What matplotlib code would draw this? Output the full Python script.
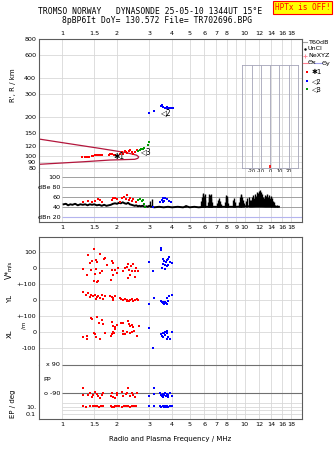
import matplotlib
matplotlib.use("Agg")
import matplotlib.pyplot as plt
from matplotlib.lines import Line2D
from matplotlib.ticker import NullLocator
import numpy as np

# ---------------- values ----------------
grid_freqs = [1, 1.5, 2, 3, 4, 5, 6, 7, 8, 9, 10, 12, 14, 16, 18]
freq_labels = ["1", "1.5", "2", "3", "4", "5", "6", "7", "8", "", "10", "12", "14", "16", "18"]
freq_labels_mid = ["1", "1.5", "2", "3", "4", "5", "6", "7", "8", "9", "10", "12", "14", "16", "18"]
range_ticks = [80, 90, 100, 120, 150, 200, 300, 400, 600, 800]

# virtual range R' (km) of the three echo groups
red_rf = [1.29, 1.33, 1.37, 1.41, 1.45, 1.48, 1.52, 1.56, 1.60, 1.64, 1.66, 1.80, 1.84, 1.88, 1.92,
          1.96, 2.00, 2.08, 2.12, 2.16, 2.20, 2.25, 2.28, 2.32, 2.36, 2.41, 2.46, 2.51, 2.56]
red_r = [97.5, 97.5, 98, 98.5, 99.5, 100, 101, 101.5, 101.5, 101, 100.5, 101.5, 102.5, 103, 102,
         100.5, 99, 104, 106, 104, 108.5, 107, 105, 108.5, 110.5, 106.5, 104, 107, 110.5]
grn_rf = [2.62, 2.67, 2.72, 2.77, 2.82, 2.95, 2.98]
grn_r = [109, 111, 112, 113, 114.5, 122, 127]
blu_rf = [2.98, 3.18, 3.47, 3.52, 3.55, 3.59, 3.65, 3.70, 3.74, 3.80, 3.87, 3.95, 4.05]
blu_r = [214, 222, 245, 248, 240, 238, 236, 233, 237, 232, 235, 236, 236]

# closed model curve in the range panel
curve_f = [0.748, 1.06, 1.61, 2.26, 2.56, 2.63, 2.60, 2.50, 1.83, 1.31, 0.748]
curve_r = [134.7, 124.8, 114, 105.5, 101, 98, 95.5, 93.8, 92.6, 89.8, 85.8]

# group labels in the range panel
group_names = ["\u27311", "\u25c12", "\u25c13"]
group_f = [2.05, 3.73, 2.90]
group_r = [98.6, 218, 108.7]

# echo amplitude dBe
red_df = [1.31, 1.39, 1.45, 1.52, 1.58, 1.61, 1.65, 1.87, 1.91, 1.95, 2.01, 2.08, 2.12, 2.18,
          2.24, 2.28, 2.32, 2.36, 2.41, 2.46, 2.54]
red_db = [51.3, 52.6, 50, 52.6, 56.6, 54.6, 50, 54.6, 57.9, 59.2, 56.6, 51.3, 57.9, 61.3,
          56.6, 64.6, 54.6, 59.2, 52.6, 56.6, 51.3]
grn_df = [2.62, 2.67, 2.73, 2.77, 2.81, 2.85]
grn_db = [54.6, 56.6, 52.6, 54.6, 46, 41.3]
blu_df = [3.16, 3.44, 3.51, 3.55, 3.59, 3.63, 3.66, 3.74, 3.83, 3.95]
blu_db = [40, 51.3, 54.6, 50, 58, 52.6, 59.2, 56.6, 52, 51]

# T60dB noise trace: base line and spikes
t60_f = [1.02, 1.05, 1.08, 1.11, 1.14, 1.18, 1.22, 1.26, 1.30, 1.34, 1.38, 1.42, 1.46, 1.50, 1.55,
         1.60, 1.65, 1.70, 1.75, 1.80, 1.85, 1.90, 1.95, 2.00, 2.05, 2.10, 2.15, 2.20, 2.25, 2.30,
         2.35, 2.40, 2.45, 2.50, 2.55, 2.60, 2.65, 2.70, 2.75, 2.80, 2.85, 2.90, 2.95, 3.00, 3.10,
         3.20, 3.40, 3.60, 3.80, 4.00, 4.30, 4.60, 4.80, 5.00, 5.30, 5.60, 6.00, 7.00, 8.00, 9.00,
         10.0, 11.0, 12.0, 13.0, 14.0, 15.0, 15.4]
t60_db = [46, 47, 44, 46, 45, 47, 44, 46, 45, 46, 44, 46, 45, 46, 44,
          45, 43, 45, 43, 44, 45, 47, 48, 47, 49, 48, 50, 48, 47, 49,
          46, 45, 44, 43, 44, 42, 43, 42, 43, 42, 41, 42, 41, 43, 41,
          40, 41, 40, 41, 40, 41, 40, 42, 40, 41, 40, 41, 41, 41, 41,
          42, 42, 43, 42, 42, 41, 41]
spike_f = [3.05, 3.10, 4.70, 4.80,
           5.80, 5.85, 5.90, 5.95, 6.00, 6.05, 6.10,
           6.30, 6.35, 6.40, 6.45, 6.50, 6.55, 6.60,
           7.05, 7.15, 7.25, 7.35, 7.45,
           7.80, 7.90, 7.95, 8.00, 8.05, 8.15,
           8.65, 8.75, 8.85,
           9.30, 9.40, 9.50, 9.60, 9.70, 9.80, 9.90,
           10.2, 10.35, 10.5, 10.65,
           10.8, 10.95, 11.1, 11.25, 11.4, 11.55, 11.7, 11.85, 12.0, 12.15, 12.3, 12.45, 12.6,
           12.8, 12.95, 13.1, 13.25, 13.4, 13.55, 13.7, 13.85, 14.0, 14.15, 14.3, 14.5, 14.7, 15.0]
spike_db = [52, 56, 44, 45,
            52, 60, 66, 68, 62, 66, 55,
            50, 60, 67, 64, 66, 58, 50,
            48, 55, 58, 52, 47,
            50, 60, 64, 63, 58, 48,
            55, 58, 50,
            50, 60, 66, 64, 60, 55, 48,
            52, 58, 60, 54,
            55, 60, 64, 58, 66, 62, 70, 68, 72, 74, 70, 66, 60,
            58, 64, 62, 67, 60, 65, 58, 62, 55, 58, 52, 50, 45, 44]

# V* (m/s), YL and XL (m)
red_vf = [1.50, 1.38, 1.61, 1.70, 1.45, 1.53, 1.31, 1.44, 1.37, 1.52, 1.66, 1.50, 1.58, 1.87, 1.91,
          1.87, 1.95, 1.91, 1.85, 2.03, 2.15, 2.21, 2.31, 2.26, 2.34, 2.39, 2.46, 2.41, 2.51, 2.54,
          2.36, 2.31, 2.51, 2.62, 1.42, 1.55, 1.53, 1.61, 1.72, 1.76, 1.99, 1.55]
red_v = [119, 79, 90, 58, 42, 48, -4, -15, -46, -38, -21, -79, -79, 42, 31,
         -15, -15, -46, -73, 0, -21, 0, 27, 6, -10, 10, 27, -21, -21, 0,
         -46, -62, -56, -21, 29, 40, -8, -33, 60, 19, -29, -85]
blu_vf = [2.99, 3.16, 3.47, 3.47, 3.56, 3.63, 3.71, 3.74, 3.59, 3.66, 3.82, 3.90, 3.51, 3.66,
          3.74, 3.82, 3.87, 3.98]
blu_v = [35, -21, 125, 115, 58, 42, 37, 52, 25, 21, 58, 37, 0, -4, 10, 21, 71, 33]

red_yf = [1.31, 1.38, 1.35, 1.44, 1.47, 1.52, 1.55, 1.58, 1.61, 1.66, 1.68, 1.72, 1.54, 1.42,
          1.82, 1.87, 1.91, 1.95, 1.91, 2.07, 2.11, 2.17, 2.21, 2.26, 2.31, 2.36, 2.41, 2.46,
          2.51, 2.57, 2.62, 2.34, 2.28]
red_yl = [50, 44, 29, 33, 23, 29, 17, 23, 12, 29, 8, 23, 8, 17,
          23, 17, 12, 23, 2, 12, 8, 2, 8, 2, -4, 2, 8, -4,
          2, 8, 2, -8, -8]
blu_yf = [2.98, 3.18, 3.47, 3.51, 3.55, 3.59, 3.63, 3.66, 3.70, 3.74, 3.74, 3.80, 3.87, 3.98]
blu_yl = [-25, 15, -6, -15, -10, -20, -25, -12, -18, 10, -25, -6, 25, 31]

red_xf = [1.44, 1.55, 1.45, 1.60, 1.66, 1.68, 1.87, 1.90, 1.95, 1.94, 1.91, 1.87, 1.93, 1.31,
          1.37, 1.37, 1.50, 1.52, 1.54, 1.61, 1.72, 1.85, 1.99, 2.11, 2.17, 2.15, 2.21, 2.15,
          2.31, 2.34, 2.36, 2.41, 2.46, 2.28, 2.36, 2.41, 2.48, 2.57, 2.64]
red_xl = [85, 92, 79, 58, 75, 50, 65, 37, 29, 17, 2, -12, -8, -33,
          -25, -46, -4, -12, -33, -46, -8, -25, 44, 58, 54, 8, -12, -12,
          71, 50, 37, 44, 33, 2, -4, 2, 8, -25, 37]
blu_xf = [2.99, 3.16, 3.66, 3.74, 3.59, 3.51, 3.66, 3.74, 3.56, 3.82, 3.90, 3.98, 3.77, 3.47, 3.63]
blu_xl = [27, -102, 2, 8, -8, -25, -19, -8, -29, -33, -46, 2, -46, -12, -4]

# EP (deg) and PP
red_ef = [1.30, 1.38, 1.42, 1.48, 1.52, 1.55, 1.58, 1.61, 1.65, 1.68, 1.85, 1.87, 1.91, 1.95,
          1.99, 2.12, 2.17, 2.24, 2.31, 2.36, 2.41, 2.46, 2.51, 2.56, 1.30, 1.45, 2.00, 2.28]
red_ep = [-60, -103, -88, -103, -82, -96, -109, -124, -103, -88, -109, -88, -114, -124,
          -92, -82, -109, -96, -60, -109, -92, -103, -118, -92, -103, -114, -103, -88]
blu_ef = [2.98, 3.18, 3.18, 3.44, 3.48, 3.52, 3.56, 3.59, 3.63, 3.66, 3.70, 3.74, 3.78, 3.82,
          3.90, 3.98]
blu_ep = [-109, -60, -96, -92, -103, -109, -96, -114, -103, -92, -109, -96, -118, -103, -92, -109]

red_pf = [1.30, 1.36, 1.42, 1.47, 1.52, 1.56, 1.60, 1.64, 1.68, 1.85, 1.88, 1.92, 1.96, 2.00,
          2.06, 2.12, 2.18, 2.24, 2.30, 2.36, 2.42, 2.48, 2.54]
red_pp = [14, 11, 16, 12, 18, 13, 10, 14, 12, 15, 11, 9, 13, 16, 12, 10, 14, 12, 15, 11, 13, 16, 12]
blu_pf = [2.98, 3.18, 3.45, 3.50, 3.55, 3.60, 3.65, 3.70, 3.75, 3.82, 3.92, 3.98]
blu_pp = [14, 15, 12, 9, 13, 10, 14, 9, 12, 11, 13, 12]

tilt_grid = [-20, -10, 0, 10, 20]
tilt_deg = [0.0]

# ---------------- layout ----------------
W, H = 335, 451
F_MIN, F_MAX = 0.748, 20.6
FRAME = "#5c5c5c"
GRID = "#d8d8d8"
RED, BLUE, GREEN = "#ff0000", "#0000ff", "#009a00"
TICK_FS = 4.6


def px_rect(top, bottom, left=39, right=302):
    """axes rectangle from pixel edges (origin top-left)"""
    return [left / W, 1 - bottom / H, (right - left) / W, (bottom - top) / H]


def fig_xy(x, y):
    return x / W, 1 - y / H


def freq_axis(ax, labels=None, top=False):
    ax.set_xscale("log")
    ax.set_xlim(F_MIN, F_MAX)
    ax.set_xticks(grid_freqs, labels if labels else [""] * len(grid_freqs))
    ax.xaxis.set_minor_locator(NullLocator())
    ax.grid(axis="x", color=GRID, lw=0.6)
    ax.set_axisbelow(True)
    ax.tick_params(axis="x", length=0, labelsize=TICK_FS, pad=2.5,
                   labeltop=top, labelbottom=not top)
    ax.tick_params(axis="y", length=0, labelsize=TICK_FS, pad=2)
    for s in ax.spines.values():
        s.set_color(FRAME)
        s.set_linewidth(0.8)


def dots(ax, x, y, color):
    ax.plot(x, y, ls="none", marker="s", ms=1.6, mew=0, color=color)


fig = plt.figure(figsize=(W / 100, H / 100), dpi=100)

# header
mono = "DejaVu Sans Mono"
fig.text(*fig_xy(150, 12), "TROMSO NORWAY   DYNASONDE 25-05-10 1344UT 15\u00b0E",
         family=mono, fontsize=5.8, ha="center", va="center")
fig.text(*fig_xy(156.7, 20.5), "8pBP6It DoY= 130.572 File= TR702696.BPG",
         family=mono, fontsize=5.8, ha="center", va="center")
fig.text(*fig_xy(302.5, 7.5), "HPTx is OFF!", family=mono, fontsize=5.6, color=RED,
         ha="center", va="center",
         bbox=dict(boxstyle="square,pad=0.2", facecolor="#ffff00", edgecolor=RED, lw=0.8))

# ---- range panel ----
ax_r = fig.add_axes(px_rect(39, 172))
freq_axis(ax_r, freq_labels, top=True)
ax_r.set_yscale("log")
ax_r.set_ylim(74.8, 803)
ax_r.set_yticks(range_ticks, [str(v) for v in range_ticks])
ax_r.yaxis.set_minor_locator(NullLocator())
ax_r.grid(axis="y", color=GRID, lw=0.6)
ax_r.spines["bottom"].set_visible(False)
ax_r.plot(curve_f, curve_r, color="#b3163c", lw=0.9)
dots(ax_r, red_rf, red_r, RED)
dots(ax_r, grn_rf, grn_r, GREEN)
dots(ax_r, blu_rf, blu_r, BLUE)
for name, f, r in zip(group_names, group_f, group_r):
    ax_r.text(f, r, name, fontsize=5.5, ha="center", va="center")

# tilt inset
ax_t = fig.add_axes(px_rect(65, 167.7, 242, 297.7))
ax_t.patch.set_alpha(0)
ax_t.set_xlim(-30.8, 30)
ax_t.set_ylim(0, 1)
ax_t.vlines(tilt_grid, 0, 1, color="#a4a4b8", lw=0.6)
ax_t.vlines(tilt_deg, 0, 0.03, color=RED, lw=1.2)
ax_t.set_xticks(tilt_grid, [str(t) for t in tilt_grid])
ax_t.set_yticks([])
ax_t.tick_params(axis="x", length=0, labelsize=3.5, pad=1)
ax_t.set_xlabel("Tilt / deg", fontsize=3.5, labelpad=0.5)
for s in ax_t.spines.values():
    s.set_color("#a4a4b8")
    s.set_linewidth(0.6)

# ---- amplitude panel ----
ax_db = fig.add_axes(px_rect(172, 222))
freq_axis(ax_db, freq_labels_mid)
ax_db.set_ylim(10.6, 110.6)
ax_db.set_yticks([])
ax_db.spines["top"].set_visible(False)
ax_db.hlines([100, 80, 60, 40], 1, F_MAX, color="#a0a0a0", lw=0.7)
ax_db.hlines([20], 1, F_MAX, color="#b4b4ee", lw=0.8)
for val, lab in zip([100, 80, 60, 40, 20], ["100", "dBe 80", "60", "40", "dBn 20"]):
    ax_db.text(0.985, val, lab, fontsize=TICK_FS, ha="right", va="center")
ax_db.vlines(spike_f, 40, spike_db, color="black", lw=1.0)
ax_db.plot(t60_f, t60_db, color="black", lw=1.4)
dots(ax_db, red_df, red_db, RED)
dots(ax_db, grn_df, grn_db, GREEN)
dots(ax_db, blu_df, blu_db, BLUE)

# ---- V*, YL, XL panel (stacked, 200 units apart) ----
ax_v = fig.add_axes(px_rect(237, 365))
freq_axis(ax_v)
ax_v.set_ylim(-206.25, 593.75)
v_ticks = [500, 400, 300, 200, 100, 0, -100]
ax_v.set_yticks(v_ticks, ["100", "0", "+-100", "0", "+-100", "0", "-100"])
ax_v.grid(axis="y", color=GRID, lw=0.6)
ax_v.spines["bottom"].set_visible(False)
dots(ax_v, red_vf, np.array(red_v) + 400, RED)
dots(ax_v, blu_vf, np.array(blu_v) + 400, BLUE)
dots(ax_v, red_yf, np.array(red_yl) + 200, RED)
dots(ax_v, blu_yf, np.array(blu_yl) + 200, BLUE)
dots(ax_v, red_xf, red_xl, RED)
dots(ax_v, blu_xf, blu_xl, BLUE)

# ---- EP / PP panel ----
ax_ep = fig.add_axes(px_rect(365, 419))
freq_axis(ax_ep, freq_labels)
ax_ep.set_ylim(-257.1, 90)
ax_ep.set_yticks([])
ax_ep.spines["top"].set_visible(False)
ax_ep.hlines([90, -90], 1, F_MAX, color="#707070", lw=0.8, clip_on=False)
ax_ep.text(0.975, 90, "x 90", fontsize=TICK_FS, ha="right", va="center")
ax_ep.text(0.975, -90, "o -90", fontsize=TICK_FS, ha="right", va="center")
ax_ep.text(0.787, -6, "PP", fontsize=TICK_FS, ha="left", va="center")
dots(ax_ep, red_ef, red_ep, RED)
dots(ax_ep, blu_ef, blu_ep, BLUE)

ax_pp = ax_ep.twinx()
ax_pp.set_xlim(F_MIN, F_MAX)
ax_pp.set_yscale("log")
ax_pp.set_ylim(10 ** -2.37, 10 ** 12.42)
ax_pp.yaxis.tick_left()
ax_pp.set_yticks([10, 0.1], ["10.", "0.1"])
ax_pp.yaxis.set_minor_locator(NullLocator())
ax_pp.tick_params(axis="y", length=0, labelsize=TICK_FS, pad=2)
for s in ax_pp.spines.values():
    s.set_visible(False)
ax_pp.hlines([100, 10, 1, 0.1], 1, F_MAX, color=GRID, lw=0.6)
dots(ax_pp, red_pf, red_pp, RED)
dots(ax_pp, blu_pf, blu_pp, BLUE)

# ---- axis titles ----
fig.text(*fig_xy(13.5, 85), "R', R / km", rotation=90, fontsize=5, ha="center", va="center")
fig.text(*fig_xy(9, 274), "V*", rotation=90, fontsize=5.5, ha="center", va="center")
fig.text(*fig_xy(9, 265.5), "m/s", rotation=90, fontsize=4, ha="center", va="center")
fig.text(*fig_xy(10, 299), "YL", rotation=90, fontsize=5, ha="center", va="center")
fig.text(*fig_xy(24, 325), "/m", rotation=90, fontsize=4, ha="center", va="center")
fig.text(*fig_xy(10, 334), "XL", rotation=90, fontsize=5, ha="center", va="center")
fig.text(*fig_xy(13, 404), "EP / deg", rotation=90, fontsize=5, ha="center", va="center")
fig.text(*fig_xy(170, 439.5), "Radio and Plasma Frequency / MHz", fontsize=5,
         ha="center", va="center")

# ---- legend (right margin) ----
def leg_line(x0, x1, y, color):
    fig.add_artist(Line2D([x0 / W, x1 / W], [1 - y / H, 1 - y / H], color=color, lw=0.8))


leg_line(303, 307, 42.3, "#a0a0a0")
fig.text(*fig_xy(308, 42.3), "T60dB", fontsize=4.6, va="center")
fig.add_artist(Line2D([305 / W], [1 - 49 / H], marker=".", ms=1.5, color="black"))
fig.text(*fig_xy(308, 49), "UnCl", fontsize=4.6, va="center")
fig.add_artist(Line2D([305 / W], [1 - 55.7 / H], marker="+", ms=3, mew=0.6, color="#ff8090"))
fig.text(*fig_xy(308, 55.7), "NeXYZ", fontsize=4.6, va="center")
leg_line(303, 307.5, 63, "#ff8090")
fig.text(*fig_xy(308, 63), "\u0398x", fontsize=4.6, va="center")
leg_line(314, 321.5, 63, "#a0a0ee")
fig.text(*fig_xy(322, 63), "\u0398y", fontsize=4.6, va="center")
for name, color, y in zip(group_names, [RED, BLUE, GREEN], [72.3, 80.7, 89.3]):
    fig.add_artist(Line2D([307 / W], [1 - y / H], marker="s", ms=1.8, mew=0, color=color))
    fig.text(*fig_xy(312, y), name, fontsize=5, va="center")

fig.savefig("out.png", dpi=100)
